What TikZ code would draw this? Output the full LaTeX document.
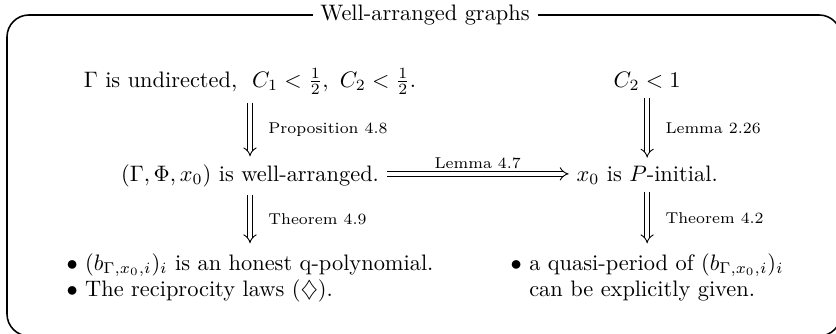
\documentclass[tikz,border=0pt]{standalone}
\usepackage{amsmath,amssymb}
\usetikzlibrary{arrows.meta, positioning}
\tikzset{
  claim/.style={inner sep=3.33pt, font=\normalsize},
  imp/.style={double, double distance=1.7pt, line width=0.4pt, -{Implies}},
  lbl/.style={font=\scriptsize, inner sep=2pt},
  frame/.style={line width=0.7pt, rounded corners=3.45mm},
  boxtitle/.style={fill=white, inner xsep=3.5pt, inner ysep=2pt, font=\normalsize},
}
\newcommand{\bseq}{(b_{\Gamma,x_0,i})_i}

\begin{document}
\begin{tikzpicture}
  \clip (0,0) rectangle (13.125,5.228);
  \draw[frame] (0.11,-0.047) rectangle (13.204,4.993);
  \node[boxtitle] (title) at (6.673,4.993) {Well-arranged graphs};

  % top row
  \node[claim, anchor=base] (undir) at (3.925,3.862)
    {$\Gamma$ is undirected,\ \ $C_1<\frac{1}{2},\ C_2<\frac{1}{2}$.};
  \node[claim, anchor=base] (ctwo) at (10.16,3.862) {$C_2<1$};

  % middle row
  \node[claim, anchor=base] (wellarr) at (3.925,2.386) {$(\Gamma,\Phi,x_0)$ is well-arranged.};
  \node[claim, anchor=base] (pinit) at (10.16,2.386) {$x_0$ is $P$-initial.};

  % bottom row
  \node[claim, anchor=base] (honest) at (3.925,0.989)
    {\begin{tabular}[t]{@{}l@{ }l@{}}
      $\bullet$ & $\bseq$ is an honest q-polynomial.\\
      $\bullet$ & The reciprocity laws $(\diamondsuit)$.
    \end{tabular}};
  \node[claim, anchor=base] (qper) at (10.16,0.989)
    {\begin{tabular}[t]{@{}l@{ }l@{}}
      $\bullet$ & a quasi-period of $\bseq$\\
                & can be explicitly given.
    \end{tabular}};

  \draw[imp] (undir) -- (wellarr) node[lbl, midway, right=6pt] {Proposition 4.8};
  \draw[imp] (ctwo) -- (pinit) node[lbl, midway, right=6pt] {Lemma 2.26};
  \draw[imp] ([yshift=3.2pt]wellarr.base east) -- ([yshift=3.2pt]pinit.base west)
    node[lbl, midway, above] {Lemma 4.7};
  \draw[imp] (wellarr) -- (honest) node[lbl, midway, right=6pt] {Theorem 4.9};
  \draw[imp] (pinit) -- (qper) node[lbl, midway, right=6pt] {Theorem 4.2};
\end{tikzpicture}
\end{document}
